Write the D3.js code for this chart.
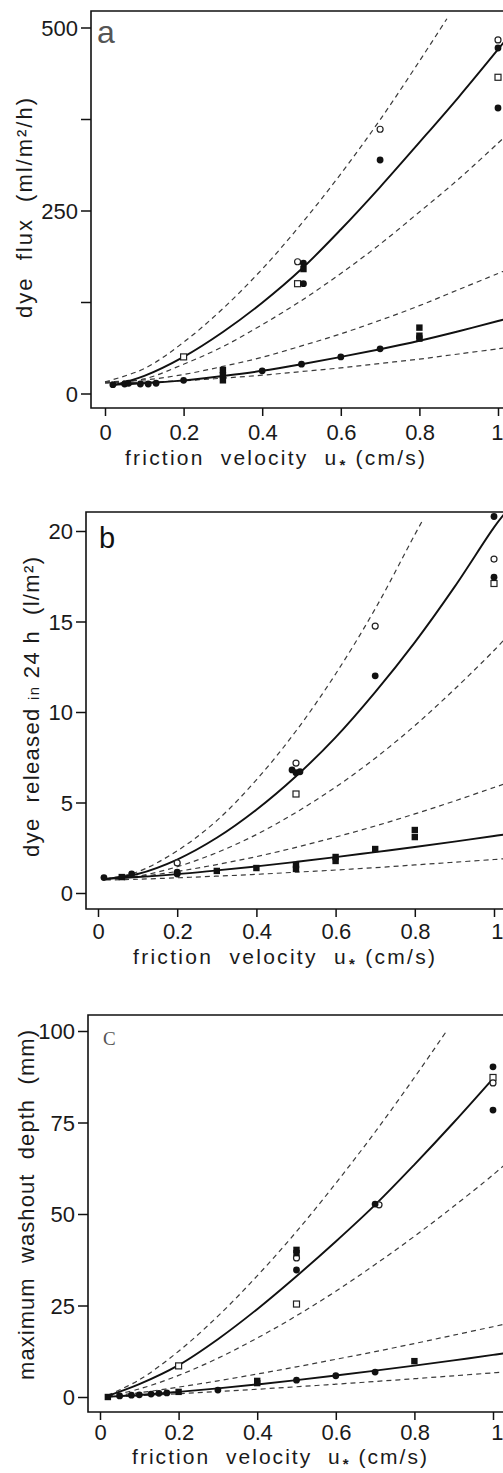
<!DOCTYPE html>
<html><head><meta charset="utf-8">
<script src="https://cdn.jsdelivr.net/npm/d3@7"></script>
<style>html,body{margin:0;padding:0;background:#fff}svg{display:block}</style>
</head><body>
<script>
// ---------- shared axis data ----------
const uTicks = [0, 0.2, 0.4, 0.6, 0.8, 1];
const uTickLabels = ["0", "0.2", "0.4", "0.6", "0.8", "1"];

// ---------- panel a : dye flux (ml/m²/h) ----------
const aYTicks = [0, 250, 500];
const aYMinorTicks = [125, 375];
const aFilledCircle = [[0.02,12],[0.05,13],[0.06,14],[0.09,13],[0.11,13],[0.13,14],[0.2,18],[0.4,31],[0.5,40],[0.6,50],[0.7,61],[0.505,178],[0.505,150],[0.7,319],[1.0,472],[1.0,390]];
const aOpenCircle = [[0.49,180],[0.7,361],[1.0,483]];
const aOpenSquare = [[0.2,50],[0.49,150],[1.0,432]];
const aFilledSquare = [[0.3,32],[0.3,25],[0.3,18],[0.505,170],[0.8,90],[0.8,79],[0.8,75]];
const aUpperSolid = [[0.02,11],[0.1,24],[0.2,50],[0.3,84],[0.4,124],[0.5,170],[0.6,224],[0.7,282],[0.8,343],[0.9,405],[1.0,470],[1.03,490]];
const aUpperDashHi = [[0,16],[0.1,34],[0.2,70],[0.3,116],[0.4,170],[0.5,232],[0.6,300],[0.7,374],[0.8,454],[0.87,512]];
const aUpperDashLo = [[0,14],[0.1,20],[0.2,40],[0.3,64],[0.4,94],[0.5,127],[0.6,164],[0.7,204],[0.8,248],[0.9,293],[1.0,342],[1.03,357]];
const aLowerSolid = [[0.02,12],[0.1,14],[0.2,18],[0.3,24],[0.4,31],[0.5,40],[0.6,50],[0.7,60.5],[0.8,72],[0.9,85],[1.0,99],[1.03,103]];
const aLowerDashHi = [[0,16],[0.1,18.5],[0.2,26],[0.3,37],[0.4,49.5],[0.5,65],[0.6,81.5],[0.7,100],[0.8,120],[0.9,142],[1.0,164],[1.03,171]];
const aLowerDashLo = [[0,15],[0.1,15.5],[0.2,17.5],[0.3,21],[0.4,25],[0.5,30],[0.6,35],[0.7,41],[0.8,47],[0.9,54],[1.0,61],[1.03,63]];

// ---------- panel b : dye released in 24 h (l/m²) ----------
const bYTicks = [0, 5, 10, 15, 20];
const bFilledCircle = [[0.015,0.85],[0.085,1.05],[0.2,1.05],[0.2,1.15],[0.49,6.8],[0.5,6.65],[0.51,6.7],[0.7,12.0],[1.0,20.8],[1.0,17.45]];
const bOpenCircle = [[0.2,1.66],[0.5,7.18],[0.7,14.75],[1.0,18.45]];
const bOpenSquare = [[0.5,5.47],[1.0,17.1]];
const bFilledSquare = [[0.06,0.88],[0.3,1.22],[0.4,1.38],[0.5,1.33],[0.5,1.55],[0.6,1.77],[0.6,1.99],[0.7,2.43],[0.8,3.09],[0.8,3.48]];
const bUpperSolid = [[0.02,0.78],[0.1,1.05],[0.2,1.85],[0.3,3.05],[0.4,4.6],[0.5,6.45],[0.6,8.6],[0.7,11.1],[0.8,13.85],[0.9,16.9],[1.0,20.2],[1.03,21.05]];
const bUpperDashHi = [[0.02,0.78],[0.1,1.17],[0.2,2.33],[0.3,4.0],[0.4,6.25],[0.5,8.95],[0.6,12.1],[0.7,15.7],[0.8,19.8],[0.82,20.6]];
const bUpperDashLo = [[0.02,0.78],[0.1,0.93],[0.2,1.45],[0.3,2.23],[0.4,3.23],[0.5,4.45],[0.6,5.85],[0.7,7.45],[0.8,9.25],[0.9,11.25],[1.0,13.4],[1.03,14.1]];
const bLowerSolid = [[0.02,0.78],[0.1,0.88],[0.2,1.04],[0.3,1.25],[0.4,1.47],[0.5,1.72],[0.6,1.98],[0.7,2.26],[0.8,2.54],[0.9,2.84],[1.0,3.15],[1.03,3.24]];
const bLowerDashHi = [[0.02,0.78],[0.1,0.9],[0.2,1.19],[0.3,1.57],[0.4,2.01],[0.5,2.52],[0.6,3.09],[0.7,3.7],[0.8,4.37],[0.9,5.08],[1.0,5.83],[1.03,6.05]];
const bLowerDashLo = [[0.02,0.72],[0.1,0.76],[0.2,0.84],[0.3,0.93],[0.4,1.03],[0.5,1.15],[0.6,1.27],[0.7,1.4],[0.8,1.55],[0.9,1.7],[1.0,1.85],[1.03,1.9]];

// ---------- panel c : maximum washout depth (mm) ----------
const cYTicks = [0, 25, 50, 75, 100];
const cFilledCircle = [[0.5,34.7],[0.7,52.7],[1.0,90.2],[1.0,78.4],[0.05,0.3],[0.08,0.5],[0.1,0.6],[0.13,0.8],[0.15,1.0],[0.17,1.1],[0.3,1.9],[0.5,4.6],[0.6,5.8],[0.7,6.8]];
const cOpenCircle = [[0.5,38],[0.71,52.5],[1.0,85.8]];
const cOpenSquare = [[0.2,8.5],[0.5,25.4],[1.0,87.3]];
const cFilledSquare = [[0.02,0],[0.2,1.4],[0.4,4.4],[0.4,3.8],[0.5,40.2],[0.5,39.3],[0.8,9.8]];
const cUpperSolid = [[0.02,0.3],[0.1,3.5],[0.2,8.7],[0.3,15.8],[0.4,24],[0.5,33],[0.6,42.5],[0.7,52.5],[0.8,63.5],[0.9,75],[1.0,87]];
const cUpperDashHi = [[0.02,0.5],[0.1,4.7],[0.2,12.5],[0.3,22.1],[0.4,33.1],[0.5,45.2],[0.6,58.4],[0.7,72.4],[0.8,87.3],[0.88,99.7]];
const cUpperDashLo = [[0.02,0.2],[0.1,2.2],[0.2,5.9],[0.3,10.6],[0.4,16.1],[0.5,22.2],[0.6,28.9],[0.7,36.2],[0.8,43.9],[0.9,52.1],[1.0,60.7],[1.03,63.5]];
const cLowerSolid = [[0.02,0.1],[0.1,0.55],[0.2,1.4],[0.3,2.35],[0.4,3.43],[0.5,4.6],[0.6,5.86],[0.7,7.2],[0.8,8.57],[0.9,10.0],[1.0,11.5],[1.03,11.95]];
const cLowerDashHi = [[0.02,0.2],[0.1,1.16],[0.2,2.7],[0.3,4.42],[0.4,6.28],[0.5,8.24],[0.6,10.3],[0.7,12.4],[0.8,14.6],[0.9,16.9],[1.0,19.2],[1.03,19.9]];
const cLowerDashLo = [[0.02,0.05],[0.1,0.38],[0.2,0.9],[0.3,1.48],[0.4,2.12],[0.5,2.8],[0.6,3.5],[0.7,4.24],[0.8,5.0],[0.9,5.79],[1.0,6.6],[1.03,6.85]];

// ---------- drawing ----------
const W = 503, H = 1473;
const FONT = "'Liberation Sans', Arial, sans-serif";
const svg = d3.select("body").append("svg").attr("width", W).attr("height", H)
  .style("font-family", FONT);

function drawPanel(cfg) {
  const g = svg.append("g");
  const x = d3.scaleLinear().domain([0, 1]).range(cfg.xRange);
  const y = d3.scaleLinear().domain(cfg.yDomain).range(cfg.yRange);

  // frame (right side falls outside the picture)
  g.append("path")
    .attr("d", `M${W + 20},${cfg.top}H${cfg.left}V${cfg.bottom}H${W + 20}`)
    .attr("fill", "none").attr("stroke", "#111").attr("stroke-width", 1.6);

  // y axis ticks and labels
  const yAxis = d3.axisLeft(y).tickValues(cfg.yTicks.concat(cfg.yMinor || []))
    .tickSize(10).tickPadding(3)
    .tickFormat(d => cfg.yTicks.includes(d) ? String(d) : "");
  const ya = g.append("g").attr("transform", `translate(${cfg.left},0)`).call(yAxis);
  ya.select(".domain").remove();
  ya.selectAll("line").attr("stroke", "#111").attr("stroke-width", 1.5);
  ya.selectAll("text").attr("font-size", 22).attr("fill", "#1a1a1a")
    .attr("font-family", FONT).attr("dy", "0.36em");

  // x axis ticks and labels
  const xAxis = d3.axisBottom(x).tickValues(uTicks).tickSize(8).tickPadding(0)
    .tickFormat((d, i) => uTickLabels[i]);
  const xa = g.append("g").attr("transform", `translate(0,${cfg.bottom})`).call(xAxis);
  xa.select(".domain").remove();
  xa.selectAll("line").attr("stroke", "#111").attr("stroke-width", 1.5);
  xa.selectAll("text").attr("font-size", 22).attr("fill", "#1a1a1a")
    .attr("font-family", FONT).attr("y", cfg.xLabelBase).attr("dy", 0)
    .attr("letter-spacing", "-0.4px");
  // keep the last label ("1") inside the picture edge
  xa.selectAll(".tick").filter(d => d === 1).select("text")
    .attr("text-anchor", "end").attr("x", W - x(1) - 0.5);

  // x axis title
  const xt = g.append("text")
    .attr("x", cfg.xTitleX).attr("y", cfg.xTitleY)
    .attr("font-size", 21).attr("fill", "#1a1a1a")
    .attr("textLength", cfg.xTitleLen).attr("lengthAdjust", "spacing")
    .attr("xml:space", "preserve");
  xt.append("tspan").text("friction  velocity  u");
  xt.append("tspan").text("*").attr("font-size", 15).attr("font-weight", "bold").attr("dy", 5).attr("dx", 1);
  xt.append("tspan").text(" (cm/s)").attr("dy", -5);

  // y axis title
  const yt = g.append("text")
    .attr("transform", `translate(${cfg.yTitleX},${cfg.yTitleY}) rotate(-90)`)
    .attr("text-anchor", "middle").attr("font-size", 22).attr("fill", "#1a1a1a")
    .attr("textLength", cfg.yTitleLen).attr("lengthAdjust", "spacing")
    .attr("xml:space", "preserve");
  cfg.yTitle.forEach(p => {
    const t = yt.append("tspan").text(p.t);
    if (p.fs) t.attr("font-size", p.fs);
  });

  // panel letter
  g.append("text").attr("x", cfg.letter.x).attr("y", cfg.letter.y)
    .attr("font-size", cfg.letter.fs).attr("fill", cfg.letter.fill)
    .attr("font-family", cfg.letter.font || FONT)
    .text(cfg.letter.t);

  // curves
  const line = d3.line().x(d => x(d[0])).y(d => y(d[1])).curve(d3.curveCatmullRom.alpha(0.5));
  const clipId = "clip" + cfg.id;
  svg.append("clipPath").attr("id", clipId).append("rect")
    .attr("x", cfg.left).attr("y", cfg.top).attr("width", W).attr("height", cfg.bottom - cfg.top);
  const cg = g.append("g").attr("clip-path", `url(#${clipId})`);
  cfg.dashed.forEach(s => cg.append("path").attr("d", line(s))
    .attr("fill", "none").attr("stroke", "#3a3a3a").attr("stroke-width", 1.2)
    .attr("stroke-dasharray", "5,4"));
  cfg.solid.forEach(s => cg.append("path").attr("d", line(s))
    .attr("fill", "none").attr("stroke", "#111").attr("stroke-width", 1.9));

  // markers
  const mg = g.append("g");
  mg.selectAll("rect.os").data(cfg.openSquare).join("rect")
    .attr("x", d => x(d[0]) - 3).attr("y", d => y(d[1]) - 3).attr("width", 6).attr("height", 6)
    .attr("fill", "#fff").attr("stroke", "#222").attr("stroke-width", 1.2);
  mg.selectAll("circle.oc").data(cfg.openCircle).join("circle")
    .attr("cx", d => x(d[0])).attr("cy", d => y(d[1])).attr("r", 3)
    .attr("fill", "#fff").attr("stroke", "#222").attr("stroke-width", 1.2);
  mg.selectAll("rect.fs").data(cfg.filledSquare, d => d).join("rect")
    .attr("x", d => x(d[0]) - 3.2).attr("y", d => y(d[1]) - 3.2).attr("width", 6.4).attr("height", 6.4)
    .attr("fill", "#111");
  mg.selectAll("circle.fc").data(cfg.filledCircle, d => d).join("circle")
    .attr("cx", d => x(d[0])).attr("cy", d => y(d[1])).attr("r", 3.4)
    .attr("fill", "#111");
}

drawPanel({
  id: "a", xRange: [105, 498], yDomain: [0, 500], yRange: [393.5, 27.5],
  left: 91, top: 11, bottom: 408, yTicks: aYTicks, yMinor: aYMinorTicks,
  xLabelBase: 32, xTitleX: 125, xTitleY: 465, xTitleLen: 300,
  yTitleX: 32, yTitleY: 208, yTitleLen: 220,
  yTitle: [{t: "dye  flux  (ml/m²/h)"}],
  letter: {t: "a", x: 97, y: 43, fs: 32, fill: "#555"},
  openCircle: aOpenCircle, openSquare: aOpenSquare, filledCircle: aFilledCircle, filledSquare: aFilledSquare,
  solid: [aUpperSolid, aLowerSolid], dashed: [aUpperDashHi, aUpperDashLo, aLowerDashHi, aLowerDashLo]
});

drawPanel({
  id: "b", xRange: [98, 494], yDomain: [0, 20], yRange: [893, 531],
  left: 86, top: 512, bottom: 909, yTicks: bYTicks,
  xLabelBase: 30, xTitleX: 133, xTitleY: 964, xTitleLen: 302,
  yTitleX: 39, yTitleY: 707, yTitleLen: 300,
  yTitle: [{t: "dye  released "}, {t: "in", fs: 15}, {t: " 24 h  (l/m²)"}],
  letter: {t: "b", x: 99, y: 548, fs: 29, fill: "#111"},
  openCircle: bOpenCircle, openSquare: bOpenSquare, filledCircle: bFilledCircle, filledSquare: bFilledSquare,
  solid: [bUpperSolid, bLowerSolid], dashed: [bUpperDashHi, bUpperDashLo, bLowerDashHi, bLowerDashLo]
});

drawPanel({
  id: "c", xRange: [100, 493], yDomain: [0, 100], yRange: [1397, 1031],
  left: 88, top: 1015, bottom: 1412, yTicks: cYTicks,
  xLabelBase: 28, xTitleX: 132, xTitleY: 1464, xTitleLen: 295,
  yTitleX: 34, yTitleY: 1205, yTitleLen: 350,
  yTitle: [{t: "maximum  washout  depth  (mm)"}],
  letter: {t: "C", x: 103, y: 1045, fs: 19, fill: "#555", font: "'Liberation Serif', serif"},
  openCircle: cOpenCircle, openSquare: cOpenSquare, filledCircle: cFilledCircle, filledSquare: cFilledSquare,
  solid: [cUpperSolid, cLowerSolid], dashed: [cUpperDashHi, cUpperDashLo, cLowerDashHi, cLowerDashLo]
});
</script>
</body></html>
